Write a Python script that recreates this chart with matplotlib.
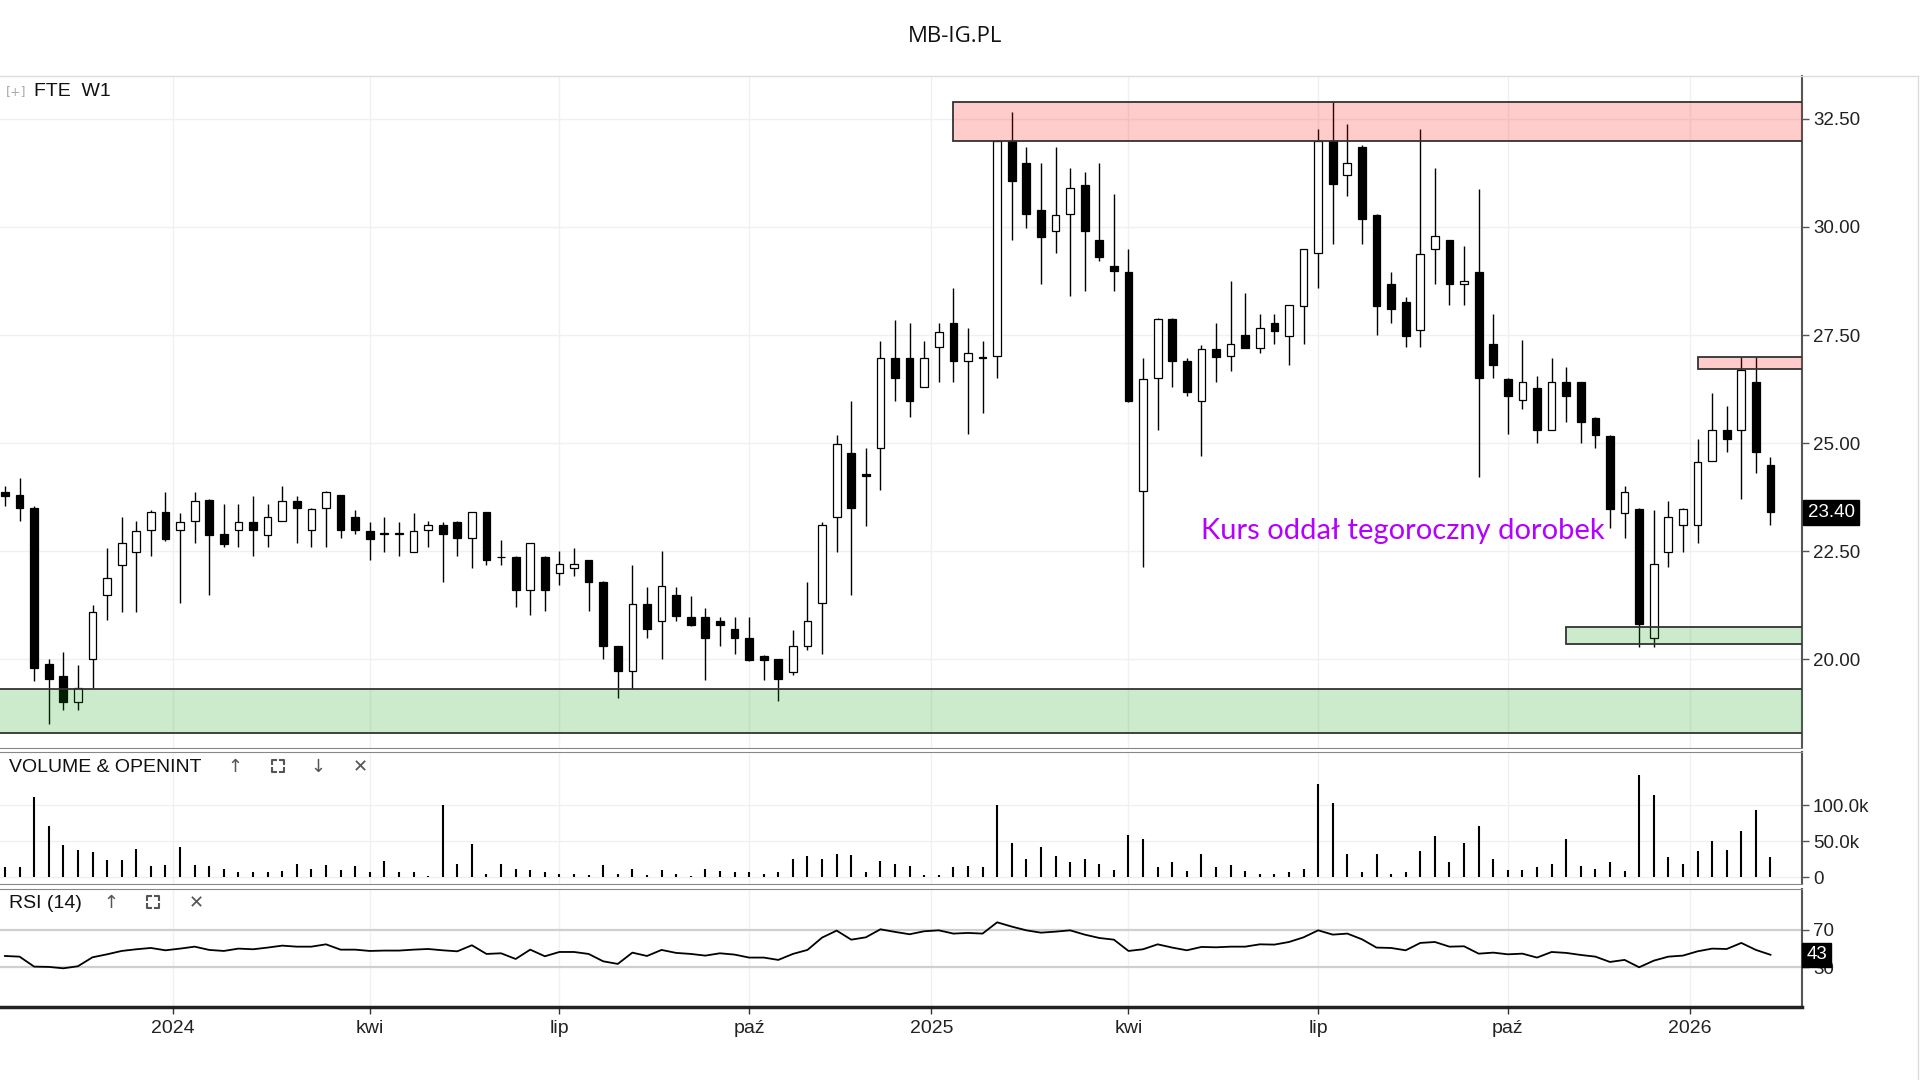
import matplotlib
matplotlib.use('Agg')
import matplotlib.pyplot as plt
import matplotlib.transforms as mtransforms
from matplotlib.patches import Rectangle
from matplotlib.lines import Line2D
import numpy as np

# FTE weekly candles (W1), Oct 2023 - Feb 2026
opens = [23.87, 23.8, 23.5, 19.89, 19.61, 19.01, 20.0, 21.49, 22.19, 22.48,
         23.0, 23.4, 23.0, 23.21, 23.69, 22.9, 23.0, 23.19, 22.88, 23.2,
         23.67, 23.0, 23.5, 23.81, 23.3, 22.98, 22.92, 22.9, 22.48, 23.0,
         23.1, 23.19, 22.8, 23.4, 22.38, 22.38, 21.6, 22.38, 21.99, 22.11,
         22.29, 21.8, 20.3, 19.74, 21.28, 20.89, 21.48, 20.99, 20.99, 20.9,
         20.7, 20.5, 20.09, 20.01, 19.7, 20.3, 21.3, 23.29, 24.78, 24.28,
         24.89, 26.97, 26.97, 26.31, 27.22, 27.79, 26.89, 26.98, 27.01, 31.98,
         31.49, 30.39, 29.9, 30.3, 30.97, 29.69, 29.09, 28.97, 23.9, 26.51,
         27.88, 26.89, 25.98, 27.19, 27.01, 27.5, 27.2, 27.79, 27.49, 28.18,
         29.4, 31.98, 31.2, 31.86, 30.27, 28.68, 28.26, 27.61, 29.5, 29.69,
         28.68, 28.97, 27.3, 26.49, 26.0, 26.28, 25.3, 26.41, 26.41, 25.58,
         25.17, 23.39, 23.47, 20.5, 22.49, 23.11, 23.11, 24.6, 25.3, 25.3,
         26.41, 24.49]
highs = [24.0, 24.2, 23.55, 20.0, 20.17, 19.87, 21.25, 22.57, 23.3, 23.2,
         23.45, 23.88, 23.38, 23.88, 23.72, 23.59, 23.59, 23.79, 23.59, 24.0,
         23.78, 23.5, 23.9, 23.81, 23.46, 23.19, 23.3, 23.19, 23.38, 23.2,
         23.19, 23.2, 23.4, 23.42, 22.77, 22.4, 22.7, 22.4, 22.5, 22.57,
         22.3, 21.82, 20.32, 22.19, 21.67, 22.5, 21.67, 21.47, 21.19, 20.98,
         20.98, 20.98, 20.1, 20.02, 20.69, 21.78, 23.17, 25.18, 25.98, 24.88,
         27.36, 27.86, 27.78, 27.36, 27.78, 28.6, 27.67, 27.36, 32.0, 32.66,
         31.86, 31.48, 31.86, 31.36, 31.28, 31.48, 30.77, 29.49, 26.97, 27.9,
         27.9, 26.97, 27.28, 27.78, 28.76, 28.48, 27.98, 27.98, 28.19, 29.5,
         32.27, 32.89, 32.38, 31.9, 30.3, 28.95, 28.37, 32.27, 31.36, 29.7,
         29.57, 30.87, 27.98, 26.5, 27.38, 26.56, 26.97, 26.76, 26.42, 25.6,
         25.2, 24.0, 23.5, 23.46, 23.67, 23.5, 25.09, 26.17, 25.86, 27.0,
         27.0, 24.68]
lows = [23.55, 23.21, 19.5, 18.5, 18.84, 18.84, 19.35, 20.92, 21.1, 21.1,
        22.4, 22.75, 21.3, 22.69, 21.49, 22.6, 22.6, 22.4, 22.6, 23.2,
        22.69, 22.6, 22.6, 22.8, 22.9, 22.3, 22.48, 22.4, 22.48, 22.6,
        21.8, 22.4, 22.11, 22.19, 22.19, 21.22, 21.03, 21.11, 21.73, 21.92,
        21.11, 20.0, 19.1, 19.31, 20.49, 20.0, 20.9, 20.78, 19.52, 20.3,
        20.13, 19.97, 19.52, 19.03, 19.65, 20.22, 20.13, 22.49, 21.5, 23.09,
        23.91, 25.98, 25.6, 26.3, 26.41, 26.41, 25.22, 25.71, 26.51, 29.69,
        29.98, 28.69, 29.4, 28.4, 28.51, 29.21, 28.51, 25.95, 22.14, 25.3,
        26.31, 26.1, 24.7, 26.41, 26.68, 27.2, 27.09, 27.3, 26.8, 27.3,
        28.6, 29.61, 30.71, 29.61, 27.5, 27.79, 27.22, 27.22, 28.68, 28.19,
        28.19, 24.22, 26.51, 25.22, 25.79, 25.01, 25.3, 25.5, 25.01, 24.9,
        23.03, 22.8, 20.29, 20.29, 22.13, 22.49, 22.7, 24.6, 24.8, 23.7,
        24.32, 23.11]
closes = [23.77, 23.5, 19.8, 19.55, 19.01, 19.34, 21.1, 21.88, 22.69, 22.98,
          23.4, 22.79, 23.19, 23.67, 22.88, 22.67, 23.19, 23.0, 23.3, 23.67,
          23.5, 23.47, 23.88, 23.0, 23.0, 22.79, 22.9, 22.92, 22.98, 23.1,
          22.9, 22.8, 23.4, 22.3, 22.36, 21.6, 22.7, 21.6, 22.2, 22.2,
          21.8, 20.3, 19.74, 21.28, 20.7, 21.69, 21.01, 20.8, 20.49, 20.8,
          20.49, 19.99, 19.99, 19.55, 20.3, 20.9, 23.1, 24.99, 23.5, 24.24,
          26.97, 26.51, 25.98, 26.97, 27.57, 26.89, 27.09, 26.97, 31.98, 31.07,
          30.3, 29.77, 30.27, 30.89, 29.9, 29.3, 28.99, 25.98, 26.49, 27.88,
          26.89, 26.19, 27.19, 26.99, 27.3, 27.2, 27.67, 27.59, 28.19, 29.5,
          31.98, 30.99, 31.48, 30.19, 28.18, 28.1, 27.49, 29.38, 29.78, 28.68,
          28.76, 26.51, 26.8, 26.1, 26.41, 25.3, 26.41, 26.1, 25.5, 25.19,
          23.49, 23.87, 20.81, 22.2, 23.3, 23.47, 24.57, 25.3, 25.09, 26.69,
          24.8, 23.4]
volume_k = [13.9, 13.9, 111, 71.3, 44.9, 38, 34.7, 24, 24, 39.8,
            15.7, 17.1, 41.7, 17.1, 15.7, 12, 7.9, 7.9, 7.9, 8.8,
            18.5, 12, 16.7, 10.2, 15.7, 6.9, 22.7, 6.9, 6.9, 2.3,
            100.5, 19, 46.8, 4.6, 19, 12, 10.2, 7.9, 5.1, 5.1,
            3.2, 17.1, 5.1, 12, 3.2, 10.2, 5.1, 2.3, 12, 8.8,
            6.9, 6.9, 5.1, 6.9, 25.9, 29.6, 25.9, 32.9, 31, 6.9,
            22.7, 19, 15.7, 3.2, 3.2, 13.9, 15.7, 13.9, 100.5, 47.2,
            25.9, 41.7, 29.6, 20.8, 25.9, 19, 10.2, 59.3, 53.7, 13.9,
            20.8, 8.8, 32.9, 13.9, 17.1, 8.8, 5.1, 5.1, 6.9, 12,
            130, 102.8, 32.9, 6.9, 32.9, 5.1, 6.9, 36.6, 57.4, 20.8,
            47.2, 71.3, 25.9, 10.2, 10.2, 13.9, 19, 53.7, 15.7, 12,
            20.8, 8.8, 142, 114.8, 27.8, 19, 36.6, 50.5, 38, 64.4,
            93.5, 27.8]
rsi14 = [42.1, 41.4, 30.7, 30.4, 28.9, 31.1, 40.7, 43.9, 47.5, 49.3,
         50.7, 48.2, 50.0, 52.1, 48.6, 47.5, 50.0, 49.3, 51.1, 53.2,
         52.1, 52.1, 54.6, 48.9, 48.9, 47.5, 47.9, 47.9, 48.9, 49.6,
         48.2, 47.1, 53.6, 44.3, 45.0, 38.9, 48.9, 41.8, 46.4, 46.4,
         44.3, 36.4, 33.6, 45.7, 42.1, 48.6, 45.4, 44.3, 42.5, 45.0,
         43.6, 40.4, 40.4, 37.9, 44.3, 48.6, 61.8, 69.3, 59.6, 62.1,
         70.7, 67.9, 65.4, 68.6, 69.6, 66.1, 66.8, 66.1, 78.2, 73.6,
         69.6, 67.1, 68.2, 69.6, 65.0, 61.4, 59.6, 47.5, 49.3, 54.6,
         51.1, 48.2, 51.8, 51.4, 52.1, 52.1, 54.6, 54.3, 57.1, 62.1,
         69.6, 65.0, 66.1, 60.0, 51.1, 50.7, 48.2, 56.1, 57.1, 52.1,
         52.5, 44.6, 45.7, 43.9, 44.6, 40.4, 46.4, 45.4, 43.2, 41.4,
         35.7, 37.9, 30.0, 37.1, 41.4, 42.5, 47.1, 50.0, 49.6, 56.1,
         48.6, 43.4]

# axis labels (x ticks sit at week index of month start)
tick_labels = ['2024', 'kwi', 'lip', 'paź', '2025', 'kwi', 'lip', 'paź', '2026']
tick_weeks = [11.5, 25, 38, 51, 63.5, 77, 90, 103, 115.5]
price_ticks = [20.0, 22.5, 25.0, 27.5, 30.0, 32.5]

# zones drawn on the chart: (from week, bottom, top)
resistance = [(65, 31.98, 32.9), (116, 26.72, 27.0)]
support = [(-5, 18.30, 19.32), (107, 20.36, 20.76)]

W, H = 1920, 1080
fig = plt.figure(figsize=(19.2, 10.8), dpi=100)
fig.patch.set_facecolor('white')


def fy(px):
    return 1 - px / H


def corners_icon(cx, cy, size=12, arm=4):
    # "maximize" icon: four corner brackets around a square
    hs = size / 2
    for sx in (-1, 1):
        for sy in (-1, 1):
            xs = [cx + sx * (hs - arm), cx + sx * hs, cx + sx * hs]
            ys = [cy + sy * hs, cy + sy * hs, cy + sy * (hs - arm)]
            fig.add_artist(Line2D([v / W for v in xs], [fy(v) for v in ys],
                                  color='#555555', lw=1.5))


main_top, main_bot = 75.6, 747.7
vol_top, vol_bot = 752.3, 884.3
rsi_top, rsi_bot = 889.0, 1007.3
right = 1802 / W

ax = fig.add_axes([0, fy(main_bot), right, (main_bot - main_top) / H])
axv = fig.add_axes([0, fy(vol_bot), right, (vol_bot - vol_top) / H], sharex=ax)
axr = fig.add_axes([0, fy(rsi_bot), right, (rsi_bot - rsi_top) / H], sharex=ax)

o = np.array(opens)
h = np.array(highs)
l = np.array(lows)
c = np.array(closes)
x = np.arange(len(o))
up = c >= o

# candles
ax.vlines(x, l, h, color='black', lw=1.0, zorder=2)
ax.bar(x, np.maximum(np.abs(c - o), 0.015), bottom=np.minimum(o, c), width=0.53,
       color=np.where(up, 'white', 'black'), edgecolor='black', lw=0.9, zorder=3)

for x0, y0, y1 in resistance:
    ax.add_patch(Rectangle((x0, y0), 300, y1 - y0, facecolor=(1, 0, 0, 0.2),
                           edgecolor='#333333', lw=1.3, zorder=4))
for x0, y0, y1 in support:
    ax.add_patch(Rectangle((x0, y0), 300, y1 - y0, facecolor=(0, 0.6, 0, 0.2),
                           edgecolor='#333333', lw=1.3, zorder=4))

ax.text(82, 22.96, 'Kurs oddał tegoroczny dorobek', color='#b300ff', fontsize=21,
        family='Lato', ha='left', va='center', zorder=6)

ax.set_xlim(-0.34, 123.16)
ax.set_ylim(17.96, 33.5)
ax.set_yticks(price_ticks)
ax.set_yticklabels([f'{p:.2f}' for p in price_ticks])

# volume
axv.vlines(x, 0, volume_k, color='black', lw=1.5)
axv.set_ylim(-9.7, 173.6)
axv.set_yticks([0, 50, 100])
axv.set_yticklabels(['0', '50.0k', '100.0k'])

# rsi
axr.plot(x, rsi14, color='black', lw=1.3, zorder=3)
axr.set_ylim(-12.9, 113.9)
axr.set_yticks([30, 70])
axr.set_yticklabels(['30', '70'])
for lev in (30, 70):
    axr.axhline(lev, color='#cfcfcf', lw=1.6, zorder=1)

axr.set_xticks(tick_weeks)
axr.set_xticklabels(tick_labels)

for a in (ax, axv, axr):
    a.set_facecolor('none')
    a.yaxis.tick_right()
    a.tick_params(axis='y', length=5, width=1, color='#555555', labelsize=13.5,
                  labelcolor='#222222', pad=3)
    a.tick_params(axis='y', labelfontfamily='Liberation Sans')
    a.grid(True, color='#f0f0f0', lw=1, zorder=0)
    a.set_axisbelow(True)
    a.spines['left'].set_visible(False)
    a.spines['right'].set_color('#555555')
    a.spines['right'].set_linewidth(1.5)
    a.spines['top'].set_color('#888888')
    a.spines['bottom'].set_color('#888888')
axr.yaxis.grid(False)
ax.spines['top'].set_visible(False)

for a in (ax, axv):
    a.tick_params(axis='x', length=0, labelbottom=False)
axr.tick_params(axis='x', length=5, width=1, color='#333333', labelsize=14,
                labelcolor='#222222', pad=4, labelfontfamily='Liberation Sans')
axr.spines['bottom'].set_color('#222222')
axr.spines['bottom'].set_linewidth(2.5)

# last value tags
tag_tr = mtransforms.blended_transform_factory(ax.transAxes, ax.transData)
ax.annotate(f'{closes[-1]:.2f}', xy=(1, closes[-1]), xycoords=tag_tr, xytext=(4, 0),
            textcoords='offset points', ha='left', va='center', color='white',
            fontsize=13.5, family='Liberation Sans', annotation_clip=False, zorder=10,
            bbox=dict(boxstyle='square,pad=0.22', facecolor='black', edgecolor='black'))
tag_tr_r = mtransforms.blended_transform_factory(axr.transAxes, axr.transData)
axr.annotate(f'{rsi14[-1]:.0f}', xy=(1, rsi14[-1]), xycoords=tag_tr_r, xytext=(3, 0),
             textcoords='offset points', ha='left', va='center', color='white',
             fontsize=13.5, family='Liberation Sans', annotation_clip=False, zorder=10,
             bbox=dict(boxstyle='square,pad=0.2', facecolor='black', edgecolor='black'))

# frame and headings
fig.add_artist(Line2D([0, 1918 / W], [fy(main_top)] * 2, color='#dcdcdc', lw=1))
fig.add_artist(Line2D([1918 / W] * 2, [fy(main_top), 0], color='#dcdcdc', lw=1))
fig.text(955 / W, fy(36.5), 'MB-IG.PL', ha='center', va='center', fontsize=16,
         family='Open Sans', color='#111111')

fig.text(16 / W, fy(92), '[+]', ha='center', va='center', fontsize=9,
         family='DejaVu Sans', color='#aaaaaa')
fig.text(34 / W, fy(92), 'FTE  W1', ha='left', va='center', fontsize=14,
         family='Liberation Sans', color='#111111')

fig.text(9 / W, fy(767), 'VOLUME & OPENINT', ha='left', va='center', fontsize=14,
         family='Liberation Sans', color='#111111')
for px, sym in zip([235, 318, 360], ['↑', '↓', '✕']):
    fig.text(px / W, fy(767), sym, ha='center', va='center', fontsize=13,
             family='DejaVu Sans', color='#555555')
corners_icon(278, 766)

fig.text(9 / W, fy(903), 'RSI (14)', ha='left', va='center', fontsize=14,
         family='Liberation Sans', color='#111111')
for px, sym in zip([111, 196], ['↑', '✕']):
    fig.text(px / W, fy(903), sym, ha='center', va='center', fontsize=13,
             family='DejaVu Sans', color='#555555')
corners_icon(153, 902)

fig.savefig('out.png', dpi=100)
